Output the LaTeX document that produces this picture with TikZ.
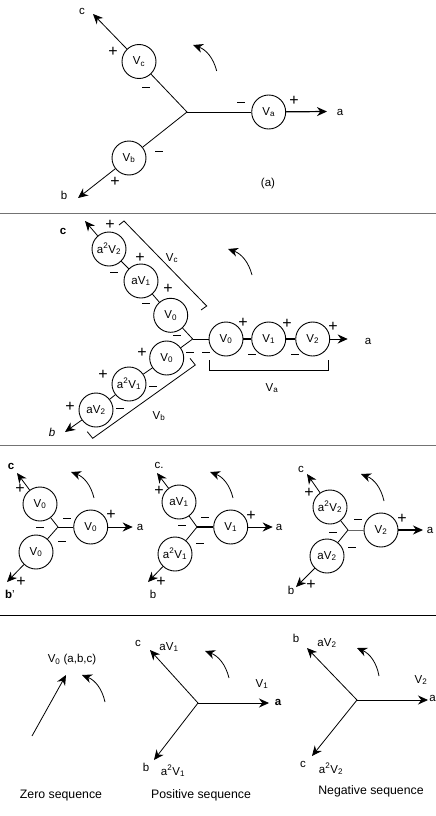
\documentclass[tikz,border=0pt]{standalone}
\usepackage{fontspec}
\setmainfont{Liberation Sans}
\usetikzlibrary{arrows.meta}
\newcounter{lbln}
\newcommand{\lbl}[3]{\stepcounter{lbln}\node[lbltext] (t\arabic{lbln}) at (#1,#2) {#3};}
\newcommand{\seqlbl}[3]{\stepcounter{lbln}\node[seqtext] (t\arabic{lbln}) at (#1,#2) {#3};}
\newcommand{\sgnp}[2]{\stepcounter{lbln}\node[signtext] (t\arabic{lbln}) at (#1,#2) {+};}
\newcommand{\sgnm}[2]{\stepcounter{lbln}\node[signtext] (t\arabic{lbln}) at (#1,#2) {\rule{7.5pt}{0.9pt}};}
\newcommand{\src}[4]{\node[srcnode] (#1) at (#2,#3) {#4};}
\newcommand{\pt}[3]{\coordinate (#1) at (#2,#3);}
\tikzset{
  x=1pt,y=-1pt,
  srcnode/.style={circle,draw,line width=0.9pt,minimum size=34pt,inner sep=0pt,font=\fontsize{11.5}{13}\selectfont,fill=white},
  lbltext/.style={inner sep=0pt,font=\fontsize{11.5}{13}\selectfont},
  seqtext/.style={inner sep=0pt,font=\fontsize{12.3}{14}\selectfont},
  signtext/.style={inner sep=0pt,font=\fontsize{16}{16}\selectfont},
  wire/.style={line width=0.8pt},
  feed/.style={line width=0.8pt,-{Stealth[length=10pt,width=9pt]}},
  rot/.style={line width=0.8pt,-{Stealth[length=10pt,width=9pt]},bend right=28},
  brack/.style={line width=0.8pt},
  sep/.style={line width=0.5pt,draw=black!55}
}
\begin{document}
\begin{tikzpicture}
\useasboundingbox (0,0) rectangle (436,816);
% separators
\pt{s1l}{0}{213}\pt{s1r}{436}{213}\pt{s2l}{0}{445}\pt{s2r}{436}{445}\pt{s3l}{0}{615}\pt{s3r}{436}{615}
\draw[sep] (s1l)--(s1r);\draw[sep] (s2l)--(s2r);\draw[line width=0.8pt] (s3l)--(s3r);

% ---------- panel (a)
\src{Vc}{139}{61.5}{V\textsubscript{c}}
\src{Vb}{129}{158}{V\textsubscript{b}}
\src{Va}{268.7}{112}{V\textsubscript{a}}
\pt{na}{187}{112}\pt{ca}{93}{14}\pt{ba}{78}{198}\pt{aa}{327}{111.5}
\draw[wire] (na)--(Vc);\draw[wire] (na)--(Vb);\draw[wire] (na)--(Va);
\draw[feed] (Vc)--(ca);\draw[feed] (Vb)--(ba);\draw[feed,line width=1.2pt] (Va)--(aa);
\pt{r1s}{216.7}{71}\pt{r1e}{193}{45}\draw[rot] (r1s) to (r1e);
\lbl{82}{11}{c}\sgnp{113}{52}\sgnm{146}{87}\sgnm{159}{151}\sgnp{115}{182}\lbl{64}{195}{b}
\sgnm{241}{102}\sgnp{294}{101}\lbl{340}{112}{a}\lbl{268}{184}{(a)}

% ---------- panel (b)
\src{Bc2}{109}{249}{a\textsuperscript{2}V\textsubscript{2}}
\src{Bc1}{141}{281}{aV\textsubscript{1}}
\src{Bc0}{170.7}{315.3}{V\textsubscript{0}}
\src{Bb0}{166.7}{358}{V\textsubscript{0}}
\src{Bb1}{129}{384}{a\textsuperscript{2}V\textsubscript{1}}
\src{Bb2}{96}{410}{aV\textsubscript{2}}
\src{Ba0}{226}{339}{V\textsubscript{0}}
\src{Ba1}{268.7}{339}{V\textsubscript{1}}
\src{Ba2}{312.7}{339}{V\textsubscript{2}}
\pt{nb}{192.7}{339}\pt{cb}{85}{221}\pt{bb}{65}{432}\pt{ab}{347.7}{339}
\draw[wire] (nb)--(Bc0);\draw[wire] (Bc0)--(Bc1);\draw[wire] (Bc1)--(Bc2);
\draw[wire] (nb)--(Bb0);\draw[wire] (Bb0)--(Bb1);\draw[wire] (Bb1)--(Bb2);
\draw[wire] (nb)--(Ba0);\draw[line width=1.2pt] (Ba0)--(Ba1);\draw[line width=1.2pt] (Ba1)--(Ba2);
\draw[feed] (Bc2)--(cb);\draw[feed] (Bb2)--(bb);\draw[feed] (Ba2)--(ab);
\pt{r2s}{252}{275}\pt{r2e}{228}{249}\draw[rot] (r2s) to (r2e);
\pt{bc1}{119}{225}\pt{bc2}{124}{221}\pt{bc3}{206.7}{306}\pt{bc4}{201}{310}
\draw[brack] (bc1)--(bc2)--(bc3)--(bc4);
\pt{ba1}{209.3}{360}\pt{ba2}{209.3}{370}\pt{ba3}{328.7}{370}\pt{ba4}{328.7}{360}
\draw[brack] (ba1)--(ba2)--(ba3)--(ba4);
\pt{bb1}{87.3}{431.7}\pt{bb2}{92.7}{438.3}\pt{bb3}{195.3}{365}\pt{bb4}{190}{358.3}
\draw[brack] (bb1)--(bb2)--(bb3)--(bb4);
\lbl{63}{231}{\textbf{c}}\sgnp{110}{225}\sgnm{114}{272}\sgnp{140}{258}\sgnm{146}{303}\sgnp{168}{289}\sgnm{177}{335}
\sgnp{243}{323}\sgnp{287}{324}\sgnp{333}{327}\sgnm{206}{352}\sgnm{252}{354}\sgnm{295}{354}\sgnm{190}{352}
\sgnp{142}{353}\sgnp{103}{375}\sgnm{153}{386}\sgnp{70}{407}\sgnm{120}{408}
\lbl{52}{432}{\textit{b}}\lbl{368}{341}{a}
\lbl{272}{388}{V\textsubscript{a}}\lbl{172}{258}{V\textsubscript{c}}\lbl{159}{416}{V\textsubscript{b}}

% ---------- panel row 3, left
\src{Ca}{40}{504}{V\textsubscript{0}}
\src{Cb}{36}{552}{V\textsubscript{0}}
\src{Cc}{90.7}{527}{V\textsubscript{0}}
\pt{nc}{58}{527}\pt{cc}{17}{473}\pt{bc}{7}{582}\pt{ac}{132.7}{527}
\draw[wire] (nc)--(Ca);\draw[wire] (nc)--(Cb);\draw[wire] (nc)--(Cc);
\draw[feed] (Ca)--(cc);\draw[feed] (Cb)--(bc);\draw[feed] (Cc)--(ac);
\pt{r3s}{94}{498}\pt{r3e}{71}{472}\draw[rot] (r3s) to (r3e);
\lbl{11}{466}{\textbf{c}}\sgnp{20}{489}\sgnm{67}{518}\sgnm{40}{527}\sgnm{62}{541}\sgnp{111}{515}\lbl{140}{527}{a}
\lbl{10}{594}{\textbf{b}'}\sgnp{21}{582}

% ---------- row 3, middle
\src{Da}{179}{502}{aV\textsubscript{1}}
\src{Db}{175}{554}{a\textsuperscript{2}V\textsubscript{1}}
\src{Dc}{230.7}{527}{V\textsubscript{1}}
\pt{nd}{197}{527}\pt{cd}{157}{473}\pt{bd}{148}{582}\pt{ad}{272.7}{527}
\draw[wire] (nd)--(Da);\draw[wire] (nd)--(Db);\draw[line width=1.2pt] (nd)--(Dc);
\draw[feed] (Da)--(cd);\draw[feed] (Db)--(bd);\draw[feed] (Dc)--(ad);
\pt{r4s}{233}{498}\pt{r4e}{210}{472}\draw[rot] (r4s) to (r4e);
\lbl{159}{465}{c.}\sgnp{159}{491}\sgnm{205}{517}\sgnm{182}{525}\sgnm{200}{543}\sgnp{251}{516}\lbl{279}{527}{a}
\lbl{153}{594}{b}\sgnp{161}{582}

% ---------- row 3, right
\src{Ea}{330}{507}{a\textsuperscript{2}V\textsubscript{2}}
\src{Eb}{327}{556}{aV\textsubscript{2}}
\src{Ec}{381}{530}{V\textsubscript{2}}
\pt{ne}{348}{530}\pt{ce}{307}{474}\pt{be}{296}{587}\pt{ae}{423}{530}
\draw[wire] (ne)--(Ea);\draw[wire] (ne)--(Eb);\draw[wire,draw=black!60] (ne)--(Ec);
\draw[feed] (Ea)--(ce);\draw[feed] (Eb)--(be);\draw[feed,line width=1.2pt] (Ec)--(ae);
\pt{r5s}{384}{501}\pt{r5e}{361}{474}\draw[rot] (r5s) to (r5e);
\lbl{301}{469}{c}\sgnp{309}{493}\sgnm{358}{519}\sgnm{333}{532}\sgnm{352}{547}\sgnp{402}{519}\lbl{430}{530}{a}
\lbl{291}{590}{b}\sgnp{311}{585}

% ---------- bottom row
\pt{z1}{32}{736}\pt{z2}{66}{675}\draw[feed] (z1)--(z2);
\pt{r6s}{105}{702}\pt{r6e}{82}{675}\draw[rot] (r6s) to (r6e);
\lbl{72}{660}{V\textsubscript{0} (a,b,c)}\seqlbl{61}{796}{Zero sequence}

\pt{np}{198}{703}\pt{cp}{150}{650}\pt{bp}{154}{760}\pt{ap}{269}{703}
\draw[feed] (np)--(cp);\draw[feed] (np)--(bp);\draw[feed] (np)--(ap);
\pt{r7s}{229}{678}\pt{r7e}{205}{651}\draw[rot] (r7s) to (r7e);
\lbl{138}{643}{c}\lbl{169}{647}{aV\textsubscript{1}}\lbl{262}{684}{V\textsubscript{1}}\lbl{278}{702}{\textbf{a}}
\lbl{146}{767}{b}\lbl{173}{771}{a\textsuperscript{2}V\textsubscript{1}}\seqlbl{201}{795}{Positive sequence}

\pt{nn}{357}{700}\pt{cn}{307}{648}\pt{bn}{312}{756}\pt{an}{428}{700}
\draw[feed] (nn)--(cn);\draw[feed] (nn)--(bn);\draw[feed] (nn)--(an);
\pt{r8s}{379}{676}\pt{r8e}{357}{648}\draw[rot] (r8s) to (r8e);
\lbl{296}{638}{b}\lbl{327}{643}{aV\textsubscript{2}}\lbl{421}{680}{V\textsubscript{2}}\lbl{432.5}{698}{a}
\lbl{303}{764}{c}\lbl{331}{769}{a\textsuperscript{2}V\textsubscript{2}}\seqlbl{371}{791}{Negative sequence}
\end{tikzpicture}
\end{document}
